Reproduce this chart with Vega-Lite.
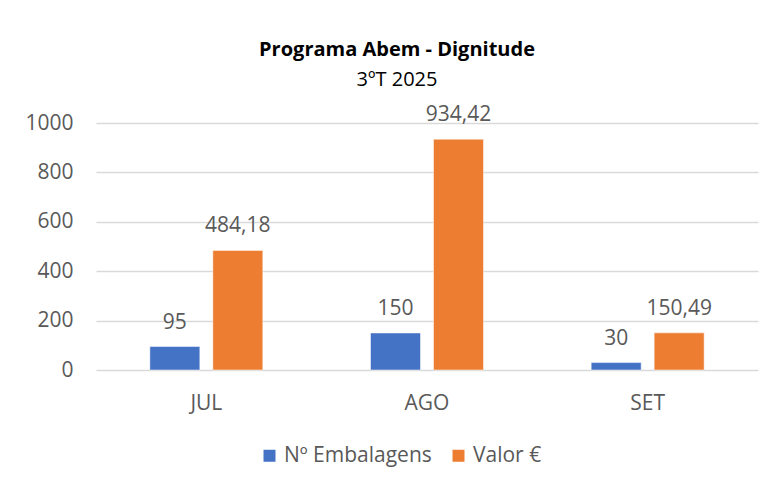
{
  "$schema": "https://vega.github.io/schema/vega-lite/v6.json",
  "width": 662,
  "height": 247,
  "autosize": {"type": "none"},
  "padding": {"left": 96, "top": 123, "right": 19, "bottom": 116},
  "background": "white",
  "title": {
    "text": "Programa Abem - Dignitude",
    "subtitle": "3ºT 2025",
    "anchor": "middle",
    "dx": -30,
    "offset": 14,
    "font": "Open Sans",
    "fontSize": 20,
    "fontWeight": "bold",
    "color": "#000000",
    "subtitleFont": "Open Sans",
    "subtitleFontSize": 20,
    "subtitleColor": "#000000",
    "subtitlePadding": 10
  },
  "data": {
    "values": [
      {"mes": "JUL", "serie": "Nº Embalagens", "valor": 95, "rotulo": "95"},
      {"mes": "JUL", "serie": "Valor €", "valor": 484.18, "rotulo": "484,18"},
      {"mes": "AGO", "serie": "Nº Embalagens", "valor": 150, "rotulo": "150"},
      {"mes": "AGO", "serie": "Valor €", "valor": 934.42, "rotulo": "934,42"},
      {"mes": "SET", "serie": "Nº Embalagens", "valor": 30, "rotulo": "30"},
      {"mes": "SET", "serie": "Valor €", "valor": 150.49, "rotulo": "150,49"}
    ]
  },
  "encoding": {
    "x": {
      "field": "mes",
      "type": "nominal",
      "sort": ["JUL", "AGO", "SET"],
      "scale": {"paddingInner": 0, "paddingOuter": 0},
      "axis": {
        "title": null,
        "labelAngle": 0,
        "domain": false,
        "ticks": false,
        "labelPadding": 22,
        "labelFont": "Open Sans",
        "labelFontSize": 21,
        "labelColor": "#595959"
      }
    },
    "xOffset": {
      "field": "serie",
      "type": "nominal",
      "sort": ["Nº Embalagens", "Valor €"],
      "scale": {"paddingInner": 0.206, "paddingOuter": 0.855}
    },
    "y": {
      "field": "valor",
      "type": "quantitative",
      "scale": {"domain": [0, 1000]},
      "axis": {
        "title": null,
        "format": "d",
        "values": [0, 200, 400, 600, 800, 1000],
        "domain": false,
        "ticks": false,
        "labelPadding": 23,
        "labelFont": "Open Sans",
        "labelFontSize": 21,
        "labelColor": "#595959",
        "gridColor": "#d9d9d9",
        "gridWidth": 1.5
      }
    }
  },
  "layer": [
    {
      "mark": {"type": "bar", "stroke": "white", "strokeWidth": 0.5},
      "encoding": {
        "color": {
          "field": "serie",
          "type": "nominal",
          "sort": ["Nº Embalagens", "Valor €"],
          "scale": {"domain": ["Nº Embalagens", "Valor €"], "range": ["#4472C4", "#ED7D31"]},
          "legend": {
            "title": null,
            "orient": "none",
            "direction": "horizontal",
            "legendX": 163,
            "legendY": 322,
            "symbolType": "square",
            "symbolSize": 144,
            "symbolStrokeWidth": 0,
            "labelFont": "Open Sans",
            "labelFontSize": 21,
            "labelColor": "#595959",
            "columnPadding": 16,
            "labelOffset": 4
          }
        }
      }
    },
    {
      "mark": {
        "type": "text",
        "baseline": "alphabetic",
        "dy": -18,
        "font": "Open Sans",
        "fontSize": 21,
        "color": "#595959"
      },
      "encoding": {
        "text": {"field": "rotulo", "type": "nominal"}
      }
    }
  ],
  "config": {
    "view": {"stroke": null}
  }
}
